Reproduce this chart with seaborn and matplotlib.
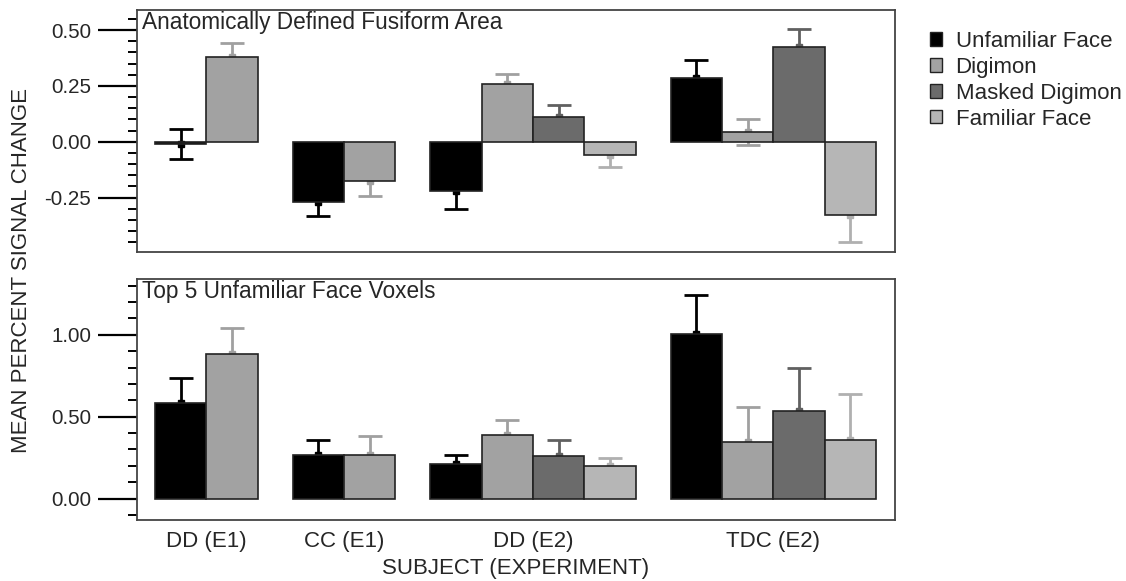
import numpy as np
import pandas as pd
import matplotlib
matplotlib.use("Agg")
import matplotlib.pyplot as plt
from matplotlib.ticker import MultipleLocator, FixedLocator, FormatStrFormatter
from matplotlib.patches import Patch
import seaborn as sns

# ---------------------------
# data
# ---------------------------
groups = ["DD (E1)", "CC (E1)", "DD (E2)", "TDC (E2)"]
conditions = ["Unfamiliar Face", "Digimon", "Masked Digimon", "Familiar Face"]
panel_titles = ["Anatomically Defined Fusiform Area", "Top 5 Unfamiliar Face Voxels"]

# anatomically defined fusiform area, one list per condition (nan = not tested)
ffa_unfamiliar = [-0.01, -0.27, -0.223, 0.286]
ffa_digimon = [0.38, -0.178, 0.26, 0.042]
ffa_masked = [np.nan, np.nan, 0.111, 0.425]
ffa_familiar = [np.nan, np.nan, -0.058, -0.329]
ffa_unfamiliar_err = [0.067, 0.063, 0.078, 0.081]
ffa_digimon_err = [0.06, 0.065, 0.045, 0.058]
ffa_masked_err = [np.nan, np.nan, 0.054, 0.082]
ffa_familiar_err = [np.nan, np.nan, 0.054, 0.121]

# top 5 unfamiliar face voxels
vox_unfamiliar = [0.583, 0.267, 0.212, 1.006]
vox_digimon = [0.882, 0.267, 0.389, 0.348]
vox_masked = [np.nan, np.nan, 0.259, 0.536]
vox_familiar = [np.nan, np.nan, 0.198, 0.36]
vox_unfamiliar_err = [0.156, 0.09, 0.053, 0.234]
vox_digimon_err = [0.159, 0.118, 0.09, 0.214]
vox_masked_err = [np.nan, np.nan, 0.098, 0.262]
vox_familiar_err = [np.nan, np.nan, 0.051, 0.281]

top_ticks = [-0.25, 0.0, 0.25, 0.50]
bottom_ticks = [0.0, 0.50, 1.00]

# ---------------------------
# styling
# ---------------------------
bar_colors = {"Unfamiliar Face": "#000000", "Digimon": "#a2a2a2",
              "Masked Digimon": "#6b6b6b", "Familiar Face": "#b6b6b6"}
err_colors = {"Unfamiliar Face": "#000000", "Digimon": "#a0a0a0",
              "Masked Digimon": "#606060", "Familiar Face": "#b0b0b0"}
group_gap = 0.68

sns.set_style("white")
plt.rcParams["font.family"] = ["Liberation Sans", "DejaVu Sans"]
plt.rcParams["axes.unicode_minus"] = False


def build_frame(means, errs):
    rows = []
    pos = 0.0
    centers = []
    for g, grp in enumerate(groups):
        start = pos
        for c, cond in enumerate(conditions):
            m = means[c][g]
            if np.isnan(m):
                continue
            rows.append({"group": grp, "condition": cond, "x": pos,
                         "mean": m, "err": errs[c][g]})
            pos += 1
        centers.append((start + pos - 1) / 2)
        pos += group_gap
    return pd.DataFrame(rows), centers


ffa_df, centers = build_frame(
    [ffa_unfamiliar, ffa_digimon, ffa_masked, ffa_familiar],
    [ffa_unfamiliar_err, ffa_digimon_err, ffa_masked_err, ffa_familiar_err])
vox_df, _ = build_frame(
    [vox_unfamiliar, vox_digimon, vox_masked, vox_familiar],
    [vox_unfamiliar_err, vox_digimon_err, vox_masked_err, vox_familiar_err])

fig = plt.figure(figsize=(11.26, 5.81), dpi=100)
ax_top = fig.add_axes([0.1217, 0.5663, 0.6732, 0.4165])
ax_bot = fig.add_axes([0.1217, 0.1050, 0.6732, 0.4148])

for ax, df, title in [(ax_top, ffa_df, panel_titles[0]), (ax_bot, vox_df, panel_titles[1])]:
    sns.barplot(data=df, x="x", y="mean", hue="condition", hue_order=conditions,
                palette=bar_colors, native_scale=True, dodge=False, width=1.0,
                errorbar=None, edgecolor="#222222", linewidth=1.2, ax=ax,
                legend=False, zorder=2)
    for _, r in df.iterrows():
        ax.errorbar(r["x"], r["mean"], yerr=r["err"], fmt="s", ms=5,
                    color=err_colors[r["condition"]], elinewidth=2.0,
                    capsize=8.5, capthick=2.0, zorder=1)
    ax.set_xlim(-0.85, df["x"].max() + 0.87)
    ax.set_xlabel("")
    ax.set_ylabel("")
    ax.text(0.006, 0.995, title, transform=ax.transAxes, ha="left", va="top",
            fontsize=16.3)
    for s in ax.spines.values():
        s.set_visible(True)
        s.set_color("#444444")
        s.set_linewidth(1.3)
    ax.tick_params(axis="y", which="major", direction="out", length=28, width=1.6,
                   color="black", labelsize=14.8, pad=5, left=True)
    ax.tick_params(axis="y", which="minor", direction="out", length=6.5, width=1.4,
                   color="black", left=True)
    ax.tick_params(axis="x", length=0)
    ax.yaxis.set_major_formatter(FormatStrFormatter("%.2f"))

ax_top.set_ylim(-0.494, 0.59)
ax_top.yaxis.set_major_locator(FixedLocator(top_ticks))
ax_top.yaxis.set_minor_locator(MultipleLocator(0.05))
ax_top.set_xticks([])

ax_bot.set_ylim(-0.13, 1.34)
ax_bot.yaxis.set_major_locator(FixedLocator(bottom_ticks))
ax_bot.yaxis.set_minor_locator(MultipleLocator(0.1))
ax_bot.set_xticks(centers)
ax_bot.set_xticklabels(groups, fontsize=16)
ax_bot.tick_params(axis="x", pad=8)

fig.text(0.019, 0.535, "MEAN PERCENT SIGNAL CHANGE", rotation=90, ha="center",
         va="center", fontsize=16)
fig.text(0.458, 0.022, "SUBJECT (EXPERIMENT)", ha="center", va="center", fontsize=16)

handles = [Patch(facecolor=bar_colors[c], edgecolor="#222222", linewidth=1.0) for c in conditions]
fig.legend(handles, conditions, loc="upper left", bbox_to_anchor=(0.818, 0.962),
           frameon=False, fontsize=16, handlelength=0.55, handleheight=0.55,
           handletextpad=0.6, labelspacing=0.22, borderaxespad=0)

fig.savefig("out.png", dpi=100)
